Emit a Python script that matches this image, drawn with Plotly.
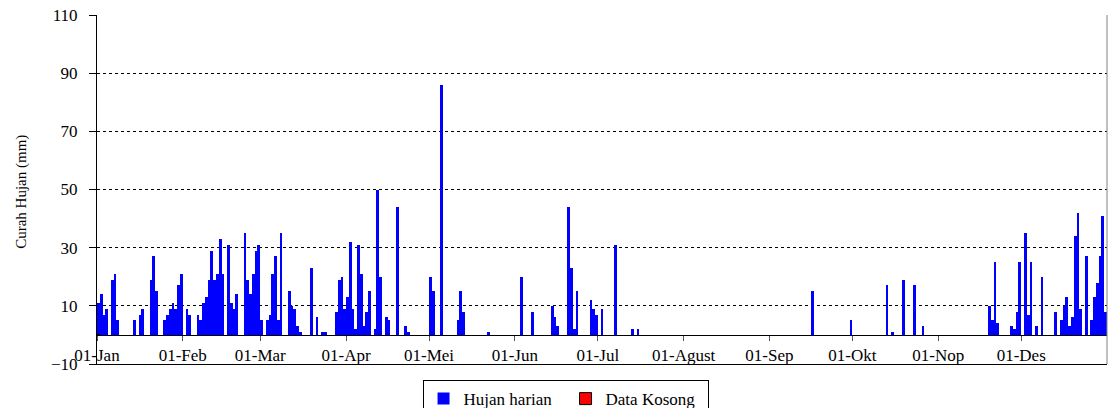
import plotly.graph_objects as go

# Daily rainfall (mm), one list per month
jan = [11, 14, 7, 9, 0, 19, 21, 5, 0, 0, 0, 0, 0, 5, 0, 7, 9, 0, 0, 19, 27, 15, 0, 0, 5, 7, 9, 11, 9, 17, 21]
feb = [0, 9, 7, 0, 0, 7, 5, 11, 13, 19, 29, 19, 21, 33, 21, 0, 31, 11, 9, 14, 0, 0, 35, 19, 14, 21, 29, 31]
mar = [5, 0, 5, 7, 21, 27, 5, 35, 0, 0, 15, 10, 9, 3, 1, 0, 0, 0, 23, 0, 6, 0, 1, 1, 0, 0, 0, 8, 19, 20, 9]
apr = [13, 32, 9, 2, 31, 21, 3, 8, 15, 0, 2, 50, 20, 0, 6, 5, 0, 0, 44, 0, 0, 3, 1, 0, 0, 0, 0, 0, 0, 0]
mei = [20, 15, 0, 0, 86, 0, 0, 0, 0, 0, 5, 15, 8, 0, 0, 0, 0, 0, 0, 0, 0, 1, 0, 0, 0, 0, 0, 0, 0, 0, 0]
jun = [0, 0, 20, 0, 0, 0, 8, 0, 0, 0, 0, 0, 0, 10, 6, 3, 0, 0, 0, 44, 23, 2, 15, 0, 0, 0, 0, 12, 9, 7]
jul = [0, 9, 0, 0, 0, 0, 31, 0, 0, 0, 0, 0, 2, 0, 2, 0, 0, 0, 0, 0, 0, 0, 0, 0, 0, 0, 0, 0, 0, 0, 0]
agu = [0, 0, 0, 0, 0, 0, 0, 0, 0, 0, 0, 0, 0, 0, 0, 0, 0, 0, 0, 0, 0, 0, 0, 0, 0, 0, 0, 0, 0, 0, 0]
sep = [0, 0, 0, 0, 0, 0, 0, 0, 0, 0, 0, 0, 0, 0, 0, 15, 0, 0, 0, 0, 0, 0, 0, 0, 0, 0, 0, 0, 0, 5]
okt = [0, 0, 0, 0, 0, 0, 0, 0, 0, 0, 0, 0, 17, 0, 1, 0, 0, 0, 19, 0, 0, 0, 17, 0, 0, 3, 0, 0, 0, 0, 0]
nop = [0, 0, 0, 0, 0, 0, 0, 0, 0, 0, 0, 0, 0, 0, 0, 0, 0, 0, 10, 5, 25, 4, 0, 0, 0, 0, 3, 2, 8, 25]
des = [0, 35, 7, 25, 0, 3, 0, 20, 0, 0, 0, 0, 8, 0, 5, 10, 13, 3, 6, 34, 42, 9, 0, 27, 0, 5, 13, 18, 27, 41, 8]

months = [jan, feb, mar, apr, mei, jun, jul, agu, sep, okt, nop, des]
month_labels = ["01-Jan", "01-Feb", "01-Mar", "01-Apr", "01-Mei", "01-Jun",
                "01-Jul", "01-Agust", "01-Sep", "01-Okt", "01-Nop", "01-Des"]
y_ticks = [-10, 10, 30, 50, 70, 90, 110]
# no missing-data days: a single zero-height placeholder keeps the legend entry
data_kosong_x = [0.5]
data_kosong_y = [0]

hujan = [v for m in months for v in m]
days = [i + 0.5 for i in range(len(hujan))]
month_starts = []
acc = 0
for m in months:
    month_starts.append(acc)
    acc += len(m)
n_days = acc

FONT = "Liberation Serif"

fig = go.Figure()
fig.add_trace(go.Bar(x=days, y=hujan, name="Hujan harian", width=1,
                     marker=dict(color="#0000FF", line=dict(width=0))))
fig.add_trace(go.Bar(x=data_kosong_x, y=data_kosong_y, name="Data Kosong", width=1,
                     marker=dict(color="#FF0000", line=dict(color="black", width=1))))
fig.add_trace(go.Scatter(x=[], y=[], xaxis="x2", showlegend=False, hoverinfo="skip"))

fig.update_layout(
    width=1108, height=408,
    margin=dict(l=97, r=1, t=15, b=44, autoexpand=False),
    plot_bgcolor="white", paper_bgcolor="white",
    bargap=0, barmode="overlay",
    showlegend=True,
    font=dict(family=FONT, size=17, color="black"),
    legend=dict(orientation="h", x=0.4639, xanchor="center", y=-0.046, yanchor="top",
                bordercolor="black", borderwidth=1, bgcolor="white",
                font=dict(family=FONT, size=17, color="black"),
                entrywidth=97, traceorder="normal"),
    xaxis=dict(range=[0, n_days], showline=True, linecolor="black", linewidth=1,
               showticklabels=False, ticks="", showgrid=False, zeroline=False),
    xaxis2=dict(overlaying="x", anchor="free", position=10 / 120, range=[0, n_days],
                tickmode="array", tickvals=month_starts, ticktext=month_labels,
                ticks="outside", ticklen=5, tickcolor="#555555",
                showline=True, linecolor="black", linewidth=1,
                showgrid=False, zeroline=False,
                tickfont=dict(family=FONT, size=17, color="black")),
    yaxis=dict(range=[-10, 110], tickmode="array", tickvals=y_ticks,
               showgrid=True, gridcolor="black", griddash="dot", gridwidth=1,
               zeroline=False, showline=True, linecolor="black", linewidth=1,
               ticks="outside", ticklen=7, tickcolor="black",
               ticklabelstandoff=8,
               tickfont=dict(family=FONT, size=17, color="black")),
    annotations=[dict(text="Curah Hujan (mm)", textangle=-90, xref="paper", yref="paper",
                      x=-0.075, y=0.494, xanchor="center", yanchor="middle",
                      showarrow=False, font=dict(family=FONT, size=15, color="black"))],
    shapes=[dict(type="line", xref="paper", yref="paper", x0=1, x1=1, y0=0, y1=1,
                 line=dict(color="#808080", width=1))],
)

fig.write_html("out.html", config={"displayModeBar": False},
               post_script="document.body.style.margin='0';document.body.style.overflow='hidden';")
